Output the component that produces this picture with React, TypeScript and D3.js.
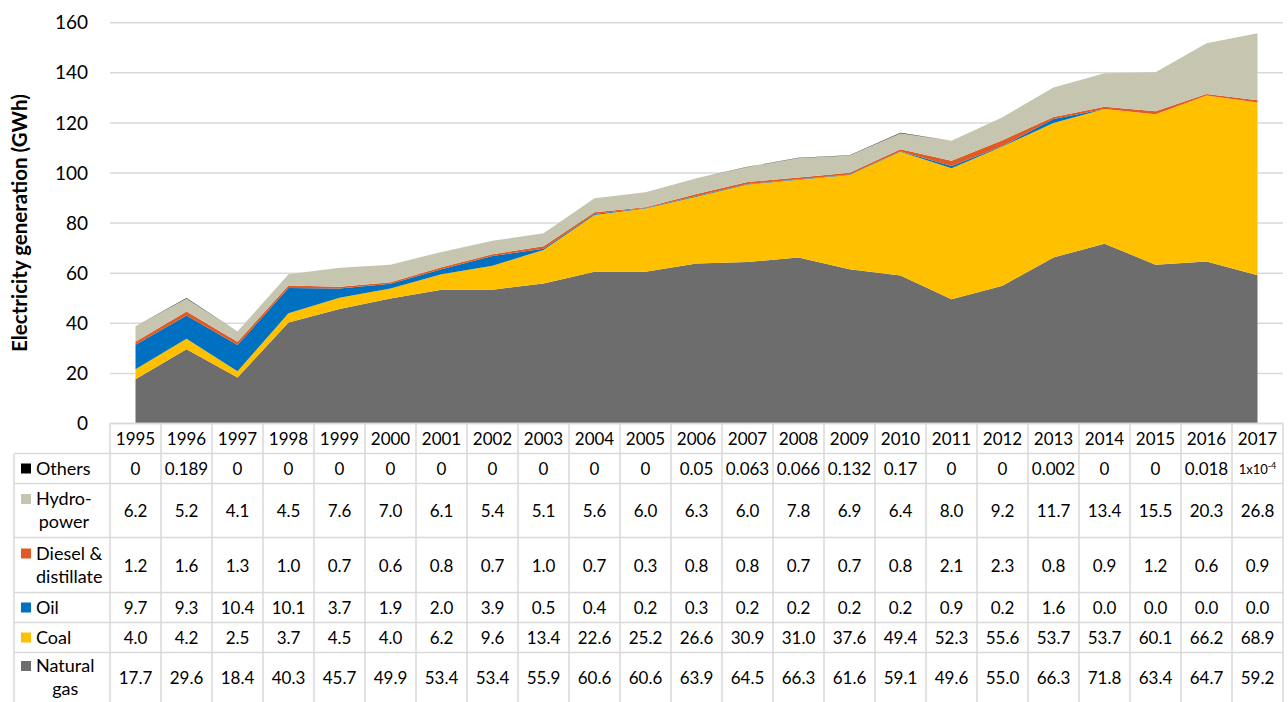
import React from "react";
import * as d3 from "d3";

const years = ["1995","1996","1997","1998","1999","2000","2001","2002","2003","2004","2005","2006","2007","2008","2009","2010","2011","2012","2013","2014","2015","2016","2017"];
const naturalGas = [17.7,29.6,18.4,40.3,45.7,49.9,53.4,53.4,55.9,60.6,60.6,63.9,64.5,66.3,61.6,59.1,49.6,55.0,66.3,71.8,63.4,64.7,59.2];
const coal = [4.0,4.2,2.5,3.7,4.5,4.0,6.2,9.6,13.4,22.6,25.2,26.6,30.9,31.0,37.6,49.4,52.3,55.6,53.7,53.7,60.1,66.2,68.9];
const oil = [9.7,9.3,10.4,10.1,3.7,1.9,2.0,3.9,0.5,0.4,0.2,0.3,0.2,0.2,0.2,0.2,0.9,0.2,1.6,0.0,0.0,0.0,0.0];
const diesel = [1.2,1.6,1.3,1.0,0.7,0.6,0.8,0.7,1.0,0.7,0.3,0.8,0.8,0.7,0.7,0.8,2.1,2.3,0.8,0.9,1.2,0.6,0.9];
const hydro = [6.2,5.2,4.1,4.5,7.6,7.0,6.1,5.4,5.1,5.6,6.0,6.3,6.0,7.8,6.9,6.4,8.0,9.2,11.7,13.4,15.5,20.3,26.8];
const others = [0,0.189,0,0,0,0,0,0,0,0,0,0.05,0.063,0.066,0.132,0.17,0,0,0.002,0,0,0.018,0.0001];

const othersLabels = ["0","0.189","0","0","0","0","0","0","0","0","0","0.05","0.063","0.066","0.132","0.17","0","0","0.002","0","0","0.018","1x10-4"];
const yTicks = [0,20,40,60,80,100,120,140,160];

type Series = { key: string; label: string[]; color: string; values: number[]; texts: string[] };

const fmt1 = (v: number) => v.toFixed(1);

const series: Series[] = [
  { key: "gas", label: ["Natural", "gas"], color: "#6d6d6d", values: naturalGas, texts: naturalGas.map(fmt1) },
  { key: "coal", label: ["Coal"], color: "#ffc000", values: coal, texts: coal.map(fmt1) },
  { key: "oil", label: ["Oil"], color: "#0070c0", values: oil, texts: oil.map(fmt1) },
  { key: "diesel", label: ["Diesel &", "distillate"], color: "#e05a24", values: diesel, texts: diesel.map(fmt1) },
  { key: "hydro", label: ["Hydro-", "power"], color: "#c6c6b0", values: hydro, texts: hydro.map(fmt1) },
  { key: "others", label: ["Others"], color: "#000000", values: others, texts: othersLabels },
];

// table row order top to bottom
const tableOrder = ["others", "hydro", "diesel", "oil", "coal", "gas"];
const rowHeights = [30, 54, 55, 30, 30, 50];

const FONT = "Lato, 'Open Sans', sans-serif";

function measure(text: string, size: number): number {
  const c = document.createElement("canvas").getContext("2d");
  if (!c) return text.length * size * 0.5;
  c.font = `${size}px Lato`;
  return c.measureText(text).width;
}

export default function App() {
  const W = 1288, H = 702;
  const left = 110, right = 1283;
  const y0 = 423.5, yTop = 22.7;
  const x = d3.scaleBand<string>().domain(years).range([left, right]);
  const xc = (yr: string) => (x(yr) as number) + x.bandwidth() / 2;
  const y = d3.scaleLinear().domain([0, 160]).range([y0, yTop]);

  const rows = years.map((yr, i) => {
    const o: any = { year: yr };
    series.forEach((s) => (o[s.key] = s.values[i]));
    return o;
  });
  const stack = d3.stack<any>().keys(series.map((s) => s.key));
  const stacked = stack(rows);
  const area = d3
    .area<any>()
    .x((d: any) => xc(d.data.year))
    .y0((d: any) => y(d[0]))
    .y1((d: any) => y(d[1]));

  const headerTop = y0;
  const headerH = 30;
  const tableTop = headerTop + headerH;
  const rowTops: number[] = [];
  let acc = tableTop;
  rowHeights.forEach((h) => {
    rowTops.push(acc);
    acc += h;
  });
  const tableBottom = acc;
  const legendLeft = 14;
  const border = "#d9d9d9";
  const fs = 17;
  const lfs = 18;

  return (
    <svg width={W} height={H} style={{ position: "absolute", left: 0, top: 0, fontFamily: FONT }}>
      <rect width={W} height={H} fill="#fff" />
      {yTicks.map((t) => (
        <g key={t}>
          {t > 0 && <line x1={left} x2={right} y1={y(t)} y2={y(t)} stroke="#d9d9d9" strokeWidth={1.5} />}
          <text x={88} y={y(t)} dy="0.35em" textAnchor="end" fontSize={19} fill="#000">
            {t}
          </text>
        </g>
      ))}
      {stacked.map((layer, i) => (
        <path key={layer.key} d={area(layer) as string} fill={series[i].color} stroke="none" />
      ))}
      <text
        transform={`translate(27,${(y0 + yTop) / 2}) rotate(-90)`}
        textAnchor="middle"
        fontSize={20.5}
        fontWeight="bold"
        fill="#000"
      >
        Electricity generation (GWh)
      </text>

      {/* table grid */}
      <g stroke={border} strokeWidth={1.5} fill="none">
        <line x1={left} x2={right} y1={headerTop} y2={headerTop} />
        <line x1={legendLeft} x2={right} y1={tableTop} y2={tableTop} />
        {rowTops.slice(1).map((t, i) => (
          <line key={i} x1={legendLeft} x2={right} y1={t} y2={t} />
        ))}
        <line x1={legendLeft} x2={legendLeft} y1={tableTop} y2={tableBottom} />
        {years.map((yr) => (
          <line key={yr} x1={x(yr) as number} x2={x(yr) as number} y1={headerTop} y2={tableBottom} />
        ))}
        <line x1={right} x2={right} y1={headerTop} y2={tableBottom} />
      </g>
      <line x1={left} x2={right} y1={y0} y2={y0} stroke="#d9d9d9" strokeWidth={1.5} />

      {years.map((yr) => (
        <text key={yr} x={xc(yr)} y={headerTop + headerH / 2 + 1} dy="0.35em" textAnchor="middle" fontSize={17} fill="#000">
          {yr}
        </text>
      ))}

      {tableOrder.map((k, ri) => {
        const s = series.find((q) => q.key === k)!;
        const top = rowTops[ri];
        const h = rowHeights[ri];
        const mid = top + h / 2;
        const lines = s.label;
        const lineH = 23;
        const firstY = mid - ((lines.length - 1) * lineH) / 2;
        const maxW = Math.max(...lines.map((l) => measure(l, lfs)));
        const cx = 36 + maxW / 2;
        return (
          <g key={k}>
            <rect x={21} y={firstY - 5} width={10} height={10} fill={s.color} />
            {lines.map((l, li) => (
              <text key={li} x={lines.length > 1 ? cx : 36} y={firstY + li * lineH} dy="0.35em" textAnchor={lines.length > 1 ? "middle" : "start"} fontSize={lfs} fill="#000">
                {l}
              </text>
            ))}
            {years.map((yr, i) => {
              const t = s.texts[i];
              if (t === "1x10-4") {
                return (
                  <text key={yr} x={xc(yr)} y={mid + 1} dy="0.35em" textAnchor="middle" fontSize={13} fill="#000">
                    1x10
                    <tspan fontSize={9} dy="-0.6em">-4</tspan>
                  </text>
                );
              }
              return (
                <text key={yr} x={xc(yr)} y={mid + 1} dy="0.35em" textAnchor="middle" fontSize={fs} fill="#000">
                  {t}
                </text>
              );
            })}
          </g>
        );
      })}
    </svg>
  );
}
